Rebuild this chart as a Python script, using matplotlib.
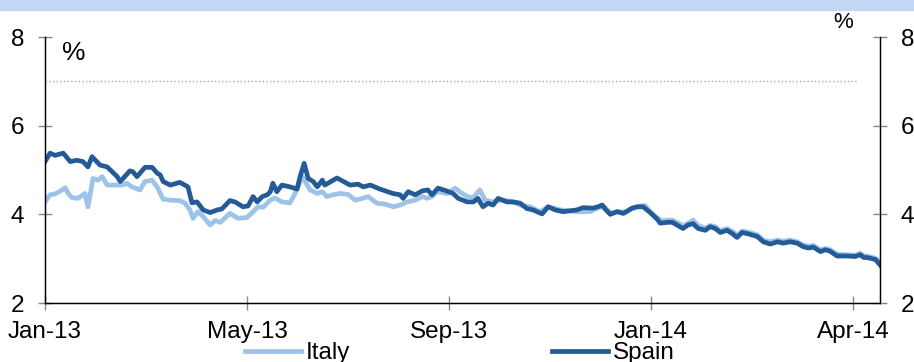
import matplotlib
matplotlib.use("Agg")
import matplotlib.pyplot as plt
from matplotlib.lines import Line2D
from matplotlib.patches import Rectangle

plt.rcParams['font.family'] = ['Liberation Sans', 'DejaVu Sans']

# Dữ liệu: tháng tính từ Jan-13, lợi suất (%)
spain_x = [0.00, 0.10, 0.20, 0.36, 0.50, 0.63, 0.75, 0.85, 0.93, 1.09, 1.23, 1.43, 1.49, 1.68,
           1.74, 1.82, 1.88, 1.98, 2.12, 2.22, 2.28, 2.34, 2.48, 2.67, 2.83, 2.91, 3.01, 3.13,
           3.27, 3.41, 3.50, 3.66, 3.76, 3.92, 4.02, 4.12, 4.20, 4.30, 4.40, 4.46, 4.51, 4.59,
           4.69, 4.85, 4.99, 5.05, 5.13, 5.21, 5.31, 5.39, 5.49, 5.54, 5.78, 5.94, 6.04, 6.20,
           6.30, 6.44, 6.63, 6.89, 7.03, 7.09, 7.19, 7.33, 7.47, 7.58, 7.66, 7.78, 7.92, 8.08,
           8.18, 8.36, 8.48, 8.57, 8.67, 8.77, 8.87, 8.97, 9.15, 9.27, 9.41, 9.54, 9.66, 9.84,
           9.96, 10.10, 10.26, 10.53, 10.65, 10.85, 10.95, 11.03, 11.09, 11.19, 11.33, 11.45,
           11.62, 11.72, 11.84, 11.98, 12.12, 12.18, 12.32, 12.42, 12.51, 12.63, 12.73, 12.83,
           12.93, 13.07, 13.17, 13.27, 13.37, 13.50, 13.60, 13.70, 13.80, 13.92, 14.10, 14.22,
           14.36, 14.50, 14.61, 14.75, 14.89, 15.01, 15.11, 15.21, 15.35, 15.45, 15.54, 15.68,
           15.88, 16.04, 16.14, 16.20, 16.30, 16.44, 16.53]
spain_y = [5.19, 5.38, 5.33, 5.38, 5.19, 5.22, 5.19, 5.07, 5.30, 5.11, 5.07, 4.85, 4.74, 4.98,
           4.96, 4.85, 4.93, 5.06, 5.06, 4.93, 4.89, 4.74, 4.66, 4.72, 4.62, 4.26, 4.28, 4.10,
           4.04, 4.10, 4.12, 4.31, 4.28, 4.17, 4.19, 4.40, 4.28, 4.40, 4.44, 4.51, 4.70, 4.51,
           4.66, 4.62, 4.57, 4.85, 5.15, 4.81, 4.74, 4.62, 4.77, 4.66, 4.82, 4.72, 4.66, 4.68,
           4.62, 4.66, 4.57, 4.47, 4.44, 4.36, 4.51, 4.44, 4.53, 4.55, 4.44, 4.59, 4.54, 4.47,
           4.36, 4.28, 4.28, 4.36, 4.17, 4.25, 4.21, 4.36, 4.28, 4.28, 4.25, 4.13, 4.10, 4.01,
           4.17, 4.10, 4.06, 4.10, 4.15, 4.14, 4.17, 4.21, 4.12, 4.00, 4.06, 4.02,
           4.14, 4.17, 4.17, 4.04, 3.89, 3.80, 3.82, 3.82, 3.76, 3.68, 3.76, 3.79,
           3.68, 3.64, 3.72, 3.68, 3.59, 3.64, 3.57, 3.48, 3.59, 3.56, 3.50, 3.38,
           3.33, 3.38, 3.35, 3.38, 3.35, 3.27, 3.24, 3.26, 3.16, 3.20, 3.17, 3.06,
           3.06, 3.05, 3.09, 3.03, 3.02, 2.98, 2.86]

italy_x = [0.00, 0.10, 0.20, 0.34, 0.40, 0.46, 0.53, 0.65, 0.79, 0.85, 0.95, 1.05, 1.13, 1.23,
           1.35, 1.52, 1.62, 1.72, 1.88, 1.98, 2.12, 2.22, 2.34, 2.48, 2.67, 2.77, 2.87, 2.93,
           3.03, 3.13, 3.27, 3.37, 3.47, 3.66, 3.82, 4.00, 4.12, 4.22, 4.32, 4.46, 4.55, 4.69,
           4.85, 4.95, 5.09, 5.25, 5.39, 5.49, 5.58, 5.70, 5.84, 6.00, 6.14, 6.28, 6.40, 6.57,
           6.73, 6.89, 7.03, 7.17, 7.33, 7.47, 7.56, 7.66, 7.76, 7.96, 8.12, 8.22, 8.36, 8.48,
           8.61, 8.71, 8.87, 9.01, 9.21, 9.41, 9.60, 9.80, 9.96, 10.20, 10.53, 10.79, 10.99,
           11.09, 11.19, 11.33, 11.49, 11.62, 11.78, 11.88, 11.98, 12.12, 12.22, 12.32, 12.42,
           12.51, 12.63, 12.73, 12.83, 12.93, 13.07, 13.17, 13.27, 13.37, 13.50, 13.60, 13.70,
           13.80, 13.92, 14.10, 14.22, 14.36, 14.50, 14.61, 14.75, 14.89, 15.01, 15.11, 15.21,
           15.35, 15.45, 15.54, 15.68, 15.88, 16.04, 16.14, 16.20, 16.30, 16.44, 16.53]
italy_y = [4.28, 4.44, 4.46, 4.55, 4.60, 4.47, 4.38, 4.36, 4.47, 4.17, 4.81, 4.77, 4.85, 4.66,
           4.66, 4.66, 4.70, 4.62, 4.55, 4.74, 4.77, 4.62, 4.34, 4.32, 4.31, 4.25, 4.10, 3.91,
           4.06, 3.95, 3.76, 3.86, 3.82, 4.02, 3.91, 3.93, 4.06, 4.17, 4.16, 4.32, 4.37, 4.28,
           4.26, 4.47, 4.85, 4.55, 4.47, 4.51, 4.40, 4.44, 4.47, 4.45, 4.32, 4.36, 4.40, 4.25,
           4.23, 4.17, 4.21, 4.28, 4.32, 4.40, 4.36, 4.40, 4.51, 4.47, 4.59, 4.50, 4.40, 4.38,
           4.55, 4.32, 4.28, 4.32, 4.30, 4.21, 4.17, 4.06, 4.17, 4.10, 4.06, 4.06, 4.17,
           4.15, 4.03, 4.06, 4.05, 4.12, 4.19, 4.20, 4.06, 3.92, 3.85, 3.87, 3.87,
           3.82, 3.74, 3.80, 3.87, 3.75, 3.69, 3.75, 3.72, 3.63, 3.68, 3.62, 3.53,
           3.62, 3.60, 3.54, 3.42, 3.38, 3.42, 3.39, 3.42, 3.38, 3.31, 3.28, 3.30,
           3.20, 3.23, 3.20, 3.10, 3.09, 3.08, 3.12, 3.07, 3.05, 3.01, 2.92]

ref_x = [0.0, 16.1]
ref_y = [7.0, 7.0]

tick_pos = [0, 4, 8, 12, 16]
tick_labels = ['Jan-13', 'May-13', 'Sep-13', 'Jan-14', 'Apr-14']
y_ticks = [2, 4, 6, 8]

c_italy = '#9DC3E9'
c_spain = '#245B97'
FS = 17.5

fig = plt.figure(figsize=(9.14, 3.62), dpi=100)
# dải màu tiêu đề bị cắt ở trên cùng
fig.patches.append(Rectangle((0, 1 - 10 / 362), 1, 10 / 362, transform=fig.transFigure,
                             color='#C6D7F3', zorder=0))

ax = fig.add_axes([45 / 914, 1 - 303 / 362, 835 / 914, 266 / 362])
ax.plot(ref_x, ref_y, color='#A8A8A8', lw=1, ls=':')
ax.plot(italy_x, italy_y, color=c_italy, lw=3.4, solid_joinstyle='round')
ax.plot(spain_x, spain_y, color=c_spain, lw=3.4, solid_joinstyle='round')

ax.set_xlim(0, 16.53)
ax.set_ylim(2, 8)
ax.set_xticks(tick_pos)
ax.set_xticklabels(tick_labels)
ax.set_yticks(y_ticks)
ax.spines['top'].set_visible(False)
for s in ['left', 'bottom', 'right']:
    ax.spines[s].set_color('black')
    ax.spines[s].set_linewidth(1)
ax.tick_params(axis='both', direction='inout', length=10, color='#888888', width=1,
               labelsize=FS)
ax.tick_params(axis='x', pad=8)
ax.tick_params(axis='y', pad=10)

ax2 = ax.twinx()
ax2.set_ylim(2, 8)
ax2.set_yticks(y_ticks)
ax2.spines['top'].set_visible(False)
ax2.spines['right'].set_color('black')
ax2.tick_params(axis='y', direction='inout', length=10, color='#888888', width=1,
                labelsize=FS, pad=10)

ax.text(0.02, 0.94, '%', transform=ax.transAxes, fontsize=19, ha='left', va='center')
fig.text(843 / 914, 1 - 22 / 362, '%', fontsize=16, ha='center', va='center')

handles = [Line2D([], [], color=c_italy, lw=3.4), Line2D([], [], color=c_spain, lw=3.4)]
fig.legend(handles, ['Italy', 'Spain'], loc='center', bbox_to_anchor=(460 / 914, 1 - 353 / 362),
           ncol=2, frameon=False, fontsize=FS, handlelength=2.3, handletextpad=0.2,
           columnspacing=8.3, borderpad=0)

fig.savefig('out.png', dpi=100)
